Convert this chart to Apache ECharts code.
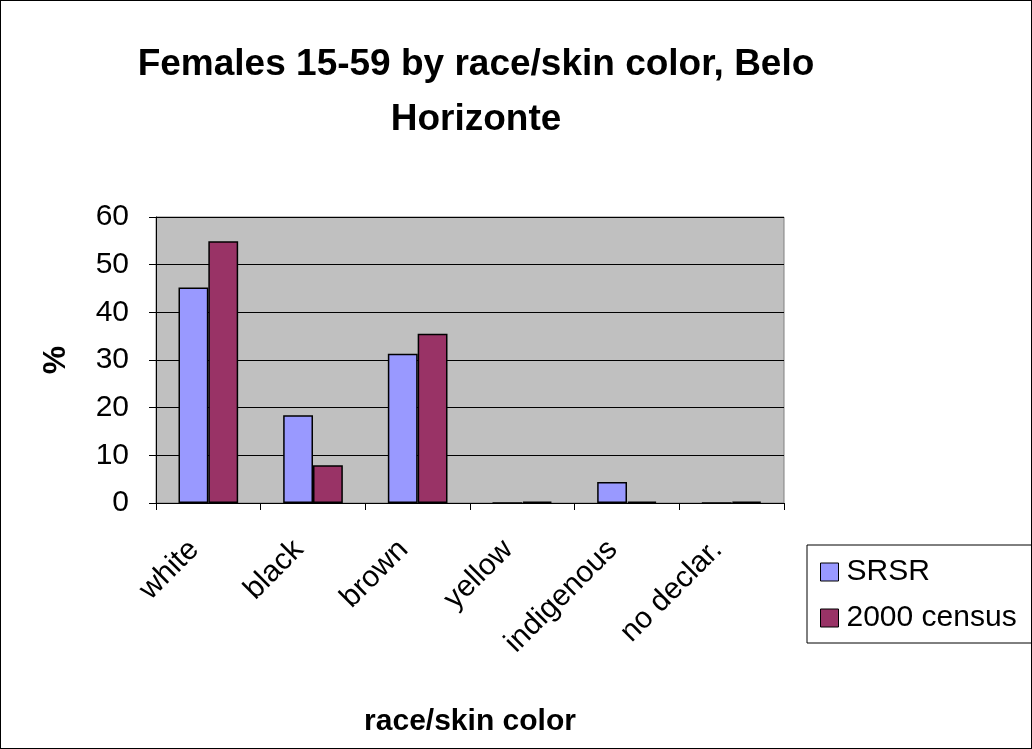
<!DOCTYPE html>
<html>
<head>
<meta charset="utf-8">
<script src="https://cdn.jsdelivr.net/npm/echarts@6/dist/echarts.min.js"></script>
<style>
  html, body { margin: 0; padding: 0; background: #fff; }
  #chart { width: 1032px; height: 749px; box-sizing: border-box; border: 1px solid #000; }
</style>
</head>
<body>
<div id="chart"></div>
<script>
const categories = ["white", "black", "brown", "yellow", "indigenous", "no declar."];
const srsr = [45.2, 18.4, 31.3, 0, 4.4, 0];
const census = [54.9, 7.9, 35.5, 0.3, 0.3, 0.3];
const seriesNames = ["SRSR", "2000 census"];

const font = "Liberation Sans, Arial, sans-serif";
const chart = echarts.init(document.getElementById("chart"));

const option = {
  animation: false,
  backgroundColor: "#fff",
  title: {
    text: "Females 15-59 by race/skin color, Belo\nHorizonte",
    left: 470,
    top: 31,
    textAlign: "center",
    textStyle: {
      fontFamily: font,
      fontSize: 37,
      fontWeight: "bold",
      color: "#000",
      lineHeight: 55,
    },
  },
  legend: {
    orient: "vertical",
    left: 806,
    top: 544,
    padding: [12, 60, 10, 13],
    itemGap: 16,
    itemWidth: 18,
    itemHeight: 18,
    borderColor: "#000",
    borderWidth: 1,
    backgroundColor: "#fff",
    icon: "rect",
    data: seriesNames,
    itemStyle: { borderColor: "#000", borderWidth: 1 },
    textStyle: { fontFamily: font, fontSize: 30, lineHeight: 30, color: "#000", padding: [0, 0, 0, 3] },
  },
  grid: {
    left: 155,
    top: 216,
    width: 628,
    height: 286,
    show: true,
    backgroundColor: "#C0C0C0",
    borderColor: "#808080",
    borderWidth: 1,
  },
  xAxis: {
    type: "category",
    data: categories,
    name: "race/skin color",
    nameLocation: "middle",
    nameGap: 204,
    nameTextStyle: { fontFamily: font, fontSize: 30, fontWeight: "bold", color: "#000" },
    axisLine: { lineStyle: { color: "#000", width: 1 } },
    axisTick: { show: true, length: 7, lineStyle: { color: "#000" } },
    axisLabel: {
      rotate: 45,
      margin: 28,
      padding: [0, 20, 0, 0],
      fontFamily: font,
      fontSize: 30,
      color: "#000",
      interval: 0,
    },
  },
  yAxis: {
    type: "value",
    min: 0,
    max: 60,
    interval: 10,
    name: "%",
    nameLocation: "middle",
    nameRotate: 90,
    nameGap: 84,
    nameTextStyle: { fontFamily: font, fontSize: 32, fontWeight: "bold", color: "#000" },
    axisLine: { show: true, lineStyle: { color: "#000", width: 1 } },
    axisTick: { show: true, length: 7, lineStyle: { color: "#000" } },
    axisLabel: { fontFamily: font, fontSize: 30, color: "#000", margin: 27 },
    splitLine: { show: true, lineStyle: { color: "#000", width: 1 } },
  },
  series: [
    {
      name: seriesNames[0],
      type: "bar",
      data: srsr,
      barGap: "0%",
      barCategoryGap: "43%",
      itemStyle: { color: "#9999FF", borderColor: "#000", borderWidth: 1.5 },
    },
    {
      name: seriesNames[1],
      type: "bar",
      data: census,
      itemStyle: { color: "#993366", borderColor: "#000", borderWidth: 1.5 },
    },
  ],
};
option && chart.setOption(option);
</script>
</body>
</html>
